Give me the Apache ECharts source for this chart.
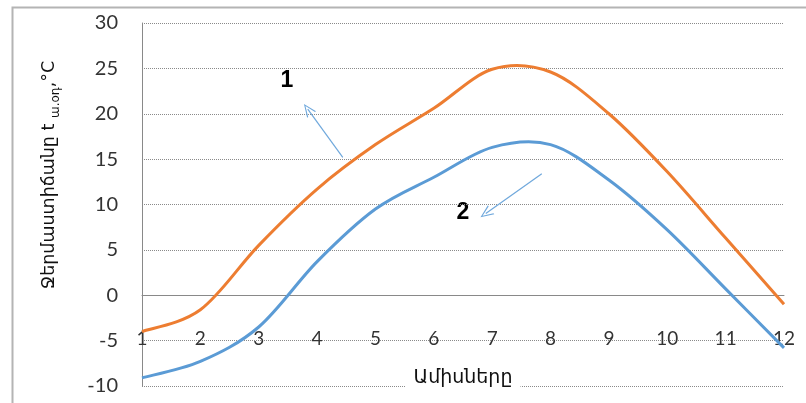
<!DOCTYPE html>
<html>
<head>
<meta charset="utf-8">
<script src="https://cdn.jsdelivr.net/npm/echarts@6/dist/echarts.min.js"></script>
<style>
  html, body { margin: 0; padding: 0; background: #fff; }
  #chart { width: 806px; height: 403px; }
</style>
</head>
<body>
<div id="chart"></div>
<script>
// ամիսներ
var months = [1, 2, 3, 4, 5, 6, 7, 8, 9, 10, 11, 12];
// կոր 1
var curve1 = [-4.0, -1.6, 5.5, 11.7, 16.6, 20.6, 24.9, 24.6, 20.0, 13.6, 6.3, -1.0];
// կոր 2
var curve2 = [-9.1, -7.3, -3.5, 3.7, 9.5, 13.0, 16.3, 16.6, 12.7, 7.2, 0.7, -5.8];
var yTicks = [-10, -5, 0, 5, 10, 15, 20, 25, 30];

var chart = echarts.init(document.getElementById('chart'));

function pairs(vals) {
	var out = [];
	for (var i = 0; i < months.length; i++) {
		out.push([months[i], vals[i]]);
	}
	return out;
}

// Excel-like smooth curve (catmull-rom through the points), drawn once per series
function smoothRender(vals, color) {
	return function(params, api) {
		if (params.dataIndex !== 0) return null;
		var pts = [];
		for (var i = 0; i < months.length; i++) {
			pts.push(api.coord([months[i], vals[i]]));
		}
		var d = 'M' + pts[0][0] + ',' + pts[0][1];
		for (var i = 0; i < pts.length - 1; i++) {
			var p0 = pts[i - 1] || pts[i];
			var p1 = pts[i];
			var p2 = pts[i + 1];
			var p3 = pts[i + 2] || pts[i + 1];
			var c1x = p1[0] + (p2[0] - p0[0]) / 6, c1y = p1[1] + (p2[1] - p0[1]) / 6;
			var c2x = p2[0] - (p3[0] - p1[0]) / 6, c2y = p2[1] - (p3[1] - p1[1]) / 6;
			d += ' C' + c1x + ',' + c1y + ' ' + c2x + ',' + c2y + ' ' + p2[0] + ',' + p2[1];
		}
		return {
			type: 'path',
			shape: { pathData: d },
			style: { fill: 'none', stroke: color, lineWidth: 3 }
		};
	};
}

// open arrow head
var arrowHead = 'path://M5,0 L10,10 L8.8,10 L5,2 L1.2,10 L0,10 Z';

var option = {
	animation: false,
	backgroundColor: '#fff',
	grid: { left: 142, right: 22, top: 23, bottom: 17, containLabel: false, outerBoundsMode: 'none' },
	xAxis: {
		type: 'value',
		min: months[0],
		max: months[months.length - 1],
		interval: 1,
		axisLine: { onZero: true, lineStyle: { color: '#898989', width: 1 } },
		axisTick: { show: false },
		splitLine: { show: false },
		axisLabel: { margin: -57, fontSize: 19, color: '#333', fontFamily: 'Lato' },
		name: 'Ամիսները',
		nameLocation: 'middle',
		nameGap: -17,
		nameTextStyle: {
			fontSize: 19, color: '#111', fontFamily: 'DejaVu Sans',
			backgroundColor: '#fff', padding: [0, 8]
		}
	},
	yAxis: {
		type: 'value',
		min: yTicks[0],
		max: yTicks[yTicks.length - 1],
		interval: 5,
		axisLine: { show: true, onZero: false, lineStyle: { color: '#898989', width: 1 } },
		axisTick: { show: false },
		axisLabel: { margin: 24, fontSize: 20, color: '#333', fontFamily: 'Lato' },
		splitLine: { lineStyle: { type: [1, 1], color: '#8a8a8a', width: 1 } }
	},
	series: [{
		name: '1',
		type: 'custom',
		data: pairs(curve1),
		renderItem: smoothRender(curve1, '#ED7D31'),
		z: 3,
		markLine: {
			silent: true,
			symbol: ['none', arrowHead],
			symbolSize: [11, 13],
			label: { show: false },
			lineStyle: { color: '#6fa8dc', width: 1.2, type: 'solid' },
			data: [
				[{ coord: [4.44, 15.2] }, { coord: [3.84, 20.5] }],
				[{ coord: [7.85, 13.4] }, { coord: [6.89, 9.0] }]
			]
		}
	}, {
		name: '2',
		type: 'custom',
		data: pairs(curve2),
		renderItem: smoothRender(curve2, '#5B9BD5'),
		z: 3
	}],
	graphic: [{
		type: 'rect',
		left: 10,
		top: 5,
		shape: { width: 830, height: 440 },
		style: { fill: 'none', stroke: '#b4b4b4', lineWidth: 2 },
		silent: true
	}, {
		type: 'text',
		x: 51,
		y: 175,
		rotation: Math.PI / 2,
		style: {
			text: '{m|Ջերմաստիճանը t }{s|ա.օդ}{m|,°C}',
			align: 'center',
			verticalAlign: 'middle',
			rich: {
				m: { fontSize: 17.5, fill: '#111', fontFamily: 'DejaVu Sans', verticalAlign: 'top', lineHeight: 22 },
				s: { fontSize: 12, fill: '#111', fontFamily: 'DejaVu Sans', verticalAlign: 'bottom', lineHeight: 12, padding: [10, 0, 0, 0] }
			}
		}
	}, {
		type: 'text',
		x: 287,
		y: 81,
		style: { text: '1', align: 'center', verticalAlign: 'middle', fontSize: 23, fontWeight: 'bold', fill: '#000', fontFamily: 'Liberation Sans' }
	}, {
		type: 'text',
		x: 463,
		y: 213,
		style: { text: '2', align: 'center', verticalAlign: 'middle', fontSize: 23, fontWeight: 'bold', fill: '#000', fontFamily: 'Liberation Sans' }
	}]
};

chart.setOption(option);
</script>
</body>
</html>
